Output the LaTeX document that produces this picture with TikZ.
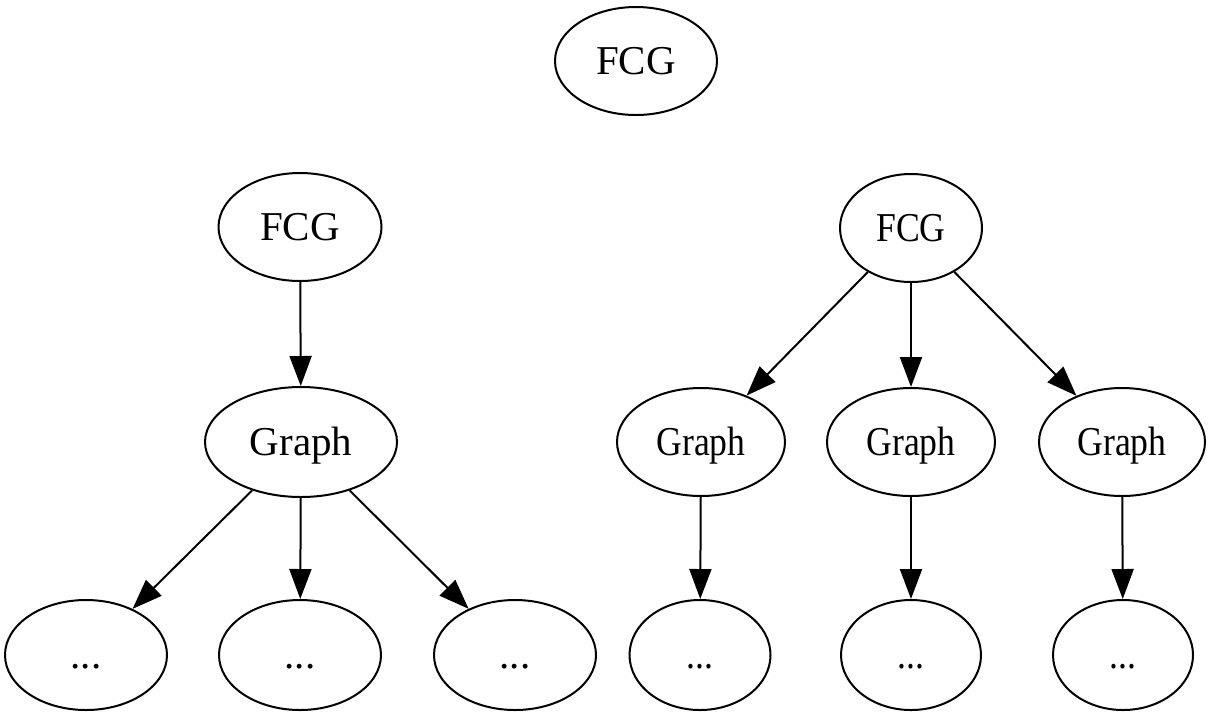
\documentclass[tikz,border=0pt]{standalone}
\usepackage{fontspec}
\setmainfont{Liberation Serif}
\usetikzlibrary{shapes.geometric,arrows.meta}
\begin{document}
\begin{tikzpicture}[x=1pt,y=-1pt,
  nd/.style={ellipse, draw, line width=2pt, inner sep=0pt, minimum height=108pt,
    font=\fontsize{41}{48}\selectfont, text height=27pt, text depth=0pt},
  arr/.style={line width=2pt, -{Triangle[length=30pt,width=22pt]}}]
\useasboundingbox (0,0) rectangle (1212,716);
\newcommand{\nar}[1]{\scalebox{0.87}[1]{#1}}
% top lone node
\node[nd, minimum width=162pt] (top) at (636,61) {FCG};
% left tree
\node[nd, minimum width=163pt] (lf) at (300,227) {FCG};
\node[nd, minimum width=192pt, minimum height=110pt] (lg) at (301,442) {Graph};
\node[nd, minimum width=162pt, minimum height=110pt] (lb1) at (86,655) {...};
\node[nd, minimum width=162pt, minimum height=110pt] (lb2) at (300,655) {...};
\node[nd, minimum width=162pt, minimum height=110pt] (lb3) at (515,655) {...};
% right tree
\node[nd, minimum width=142pt] (rf) at (911,228) {\nar{FCG}};
\node[nd, minimum width=168pt] (rg1) at (701,442) {\nar{Graph}};
\node[nd, minimum width=168pt] (rg2) at (911,442) {\nar{Graph}};
\node[nd, minimum width=166pt] (rg3) at (1122,442) {\nar{Graph}};
\node[nd, minimum width=141pt, minimum height=110pt] (rb1) at (700,655) {\nar{...}};
\node[nd, minimum width=140pt, minimum height=110pt] (rb2) at (911,655) {\nar{...}};
\node[nd, minimum width=140pt, minimum height=110pt] (rb3) at (1123,655) {\nar{...}};
% edges
\draw[arr] (lf) -- (lg);
\draw[arr] (lg) -- (lb1);
\draw[arr] (lg) -- (lb2);
\draw[arr] (lg) -- (lb3);
\draw[arr] (rf) -- (rg1);
\draw[arr] (rf) -- (rg2);
\draw[arr] (rf) -- (rg3);
\draw[arr] (rg1) -- (rb1);
\draw[arr] (rg2) -- (rb2);
\draw[arr] (rg3) -- (rb3);
\end{tikzpicture}
\end{document}
